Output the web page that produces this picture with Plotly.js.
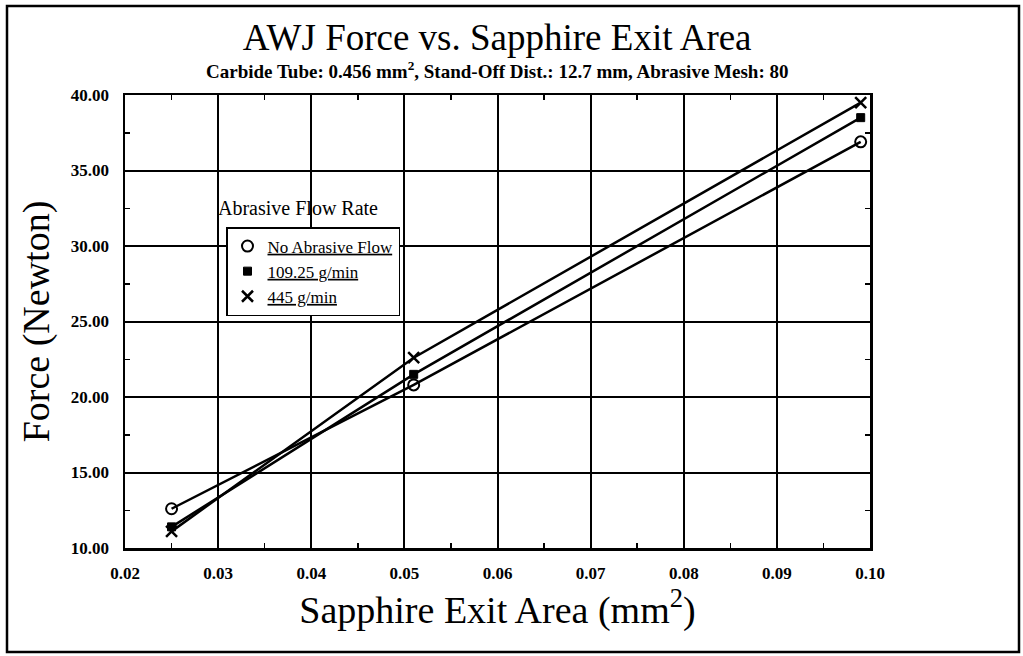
<!DOCTYPE html>
<html>
<head>
<meta charset="utf-8">
<script src="https://cdn.plot.ly/plotly-3.0.1.min.js"></script>
<style>html,body{margin:0;padding:0;background:#fff;}#chart{width:1023px;height:656px;}</style>
</head>
<body>
<div id="chart"></div>
<script>
// Data
const exitArea = [0.025, 0.051, 0.099];
const forceNoAbrasive = [12.6, 20.8, 36.9];
const force109 = [11.4, 21.5, 38.5];
const force445 = [11.1, 22.6, 39.5];
const seriesNames = ['No Abrasive Flow', '109.25 g/min', '445 g/min'];
const xTickVals = [0.02, 0.03, 0.04, 0.05, 0.06, 0.07, 0.08, 0.09, 0.10];
const yTickVals = [10, 15, 20, 25, 30, 35, 40];

const FONT = 'Liberation Serif, Times New Roman, serif';
const series = [
  {y: forceNoAbrasive, symbol: 'circle-open', size: 11, lw: 2},
  {y: force109, symbol: 'square', size: 8, lw: 1},
  {y: force445, symbol: 'x-thin-open', size: 11, lw: 2.5}
];

const traces = [];
series.forEach((s) => {
  traces.push({
    x: exitArea, y: s.y, mode: 'lines', type: 'scatter',
    line: {color: '#000', width: 2.5}, showlegend: false, hoverinfo: 'skip'
  });
});
series.forEach((s, i) => {
  traces.push({
    x: exitArea, y: s.y, mode: 'markers', type: 'scatter',
    name: '<u>' + seriesNames[i] + '</u>',
    marker: {symbol: s.symbol, size: s.size, color: '#000',
             line: {color: '#000', width: s.lw}},
    cliponaxis: false
  });
});

const layout = {
  width: 1023, height: 656,
  margin: {l: 125, r: 153, t: 95, b: 108},
  paper_bgcolor: '#fff', plot_bgcolor: '#fff',
  font: {family: FONT, color: '#000'},
  title: {
    text: 'AWJ Force vs. Sapphire Exit Area',
    font: {family: FONT, size: 37, color: '#000'},
    x: 0.486, xanchor: 'center', y: 1 - 37/656, yanchor: 'middle', yref: 'container'
  },
  xaxis: {
    range: [0.02, 0.10], tickvals: xTickVals, tickformat: '.2f',
    showgrid: true, gridcolor: '#000', gridwidth: 2,
    showline: true, linecolor: '#000', linewidth: 2.5, mirror: 'allticks',
    ticks: '', zeroline: false, ticklabelstandoff: 8,
    tickfont: {family: FONT, size: 17, color: '#000', weight: 'bold'},
    minor: {dtick: 0.01, tick0: 0.025, ticks: 'inside', ticklen: 5, tickcolor: '#000', tickwidth: 1.5, showgrid: false},
    title: {text: 'Sapphire Exit Area (mm<sup>2</sup>)', font: {family: FONT, size: 38, color: '#000'}, standoff: 0}
  },
  yaxis: {
    range: [10, 40], tickvals: yTickVals, tickformat: '.2f',
    showgrid: true, gridcolor: '#000', gridwidth: 2,
    showline: true, linecolor: '#000', linewidth: 2.5, mirror: 'allticks',
    ticks: '', zeroline: false, ticklabelstandoff: 10,
    tickfont: {family: FONT, size: 17, color: '#000', weight: 'bold'},
    minor: {dtick: 5, tick0: 12.5, ticks: 'inside', ticklen: 5, tickcolor: '#000', tickwidth: 1.5, showgrid: false},
    title: {text: 'Force (Newton)', font: {family: FONT, size: 38, color: '#000'}, standoff: 10}
  },
  legend: {
    x: (226-125)/745, y: (548-227)/453, xanchor: 'left', yanchor: 'top',
    bgcolor: '#fff', bordercolor: '#000', borderwidth: 1.5,
    font: {family: FONT, size: 17, color: '#000'},
    itemwidth: 30, tracegroupgap: 0
  },
  annotations: [
    {text: 'Carbide Tube: 0.456 mm<sup>2</sup>, Stand-Off Dist.: 12.7 mm, Abrasive Mesh: 80',
     xref: 'paper', yref: 'paper', x: (497-125)/745, y: (548-70)/453, xanchor: 'center', yanchor: 'middle',
     showarrow: false, font: {family: FONT, size: 19, color: '#000', weight: 'bold'}},
    {text: 'Abrasive Flow Rate', xref: 'paper', yref: 'paper',
     x: (216-125)/745, y: (548-208)/453, xanchor: 'left', yanchor: 'middle',
     showarrow: false, font: {family: FONT, size: 20, color: '#000'}}
  ],
  shapes: [
    {type: 'rect', xref: 'paper', yref: 'paper',
     x0: (7-125)/745, x1: (1019-125)/745, y0: (548-652)/453, y1: (548-6)/453,
     line: {color: '#000', width: 2.5}, layer: 'below'}
  ]
};

Plotly.newPlot('chart', traces, layout, {displayModeBar: false, staticPlot: true});
</script>
</body>
</html>
